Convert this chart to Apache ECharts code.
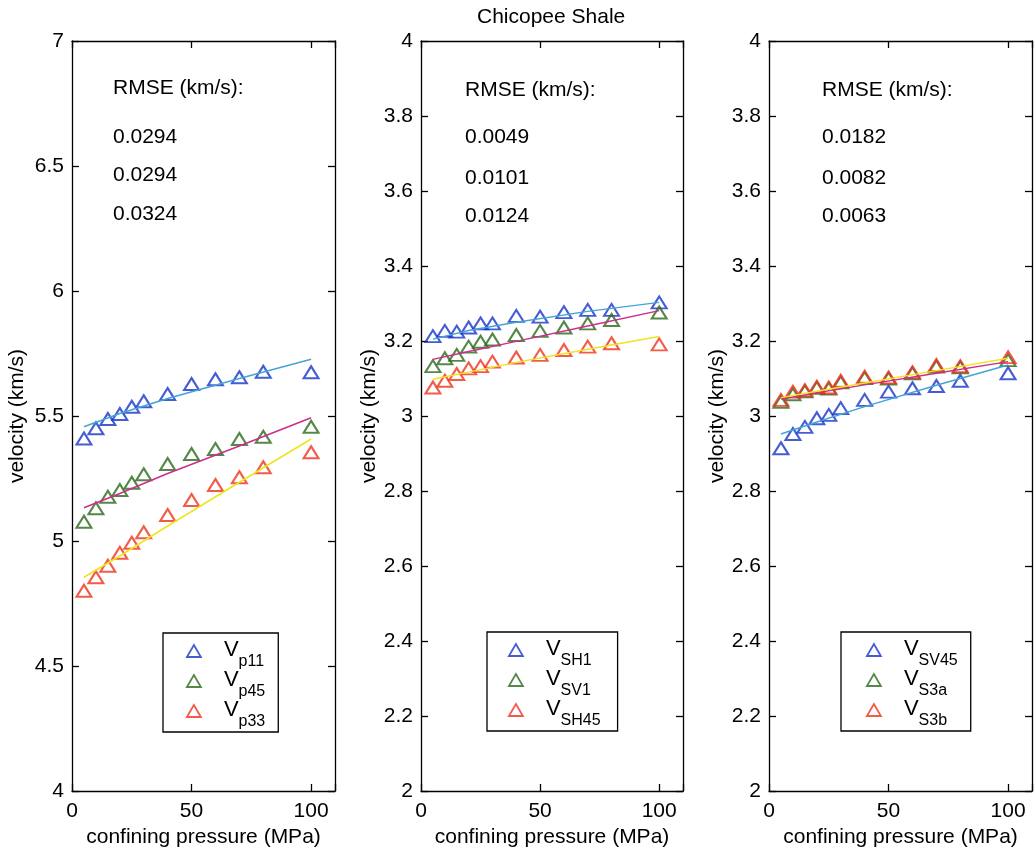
<!DOCTYPE html>
<html>
<head>
<meta charset="utf-8">
<script src="https://cdn.jsdelivr.net/npm/echarts@6/dist/echarts.min.js"></script>
<style>html,body{margin:0;padding:0;background:#fff}#c{width:1035px;height:854px}</style>
</head>
<body>
<div id="c"></div>
<script>
// ---------- data ----------
const pressure = [5, 10, 15, 20, 25, 30, 40, 50, 60, 70, 80, 100];
const fitPressure = [5, 20, 40, 70, 100];
const xTicks = [0, 50, 100];

// panel 1 (P-wave)
const vp11 = [5.41, 5.451, 5.488, 5.508, 5.537, 5.559, 5.588, 5.628, 5.647, 5.655, 5.677, 5.675];
const vp45 = [5.077, 5.131, 5.177, 5.204, 5.233, 5.267, 5.308, 5.348, 5.368, 5.408, 5.417, 5.457];
const vp33 = [4.801, 4.855, 4.901, 4.953, 4.993, 5.035, 5.104, 5.164, 5.224, 5.255, 5.295, 5.355];
const fitVp11 = [5.457, 5.51, 5.57, 5.65, 5.727];
const fitVp45 = [5.133, 5.19, 5.27, 5.38, 5.493];
const fitVp33 = [4.855, 4.94, 5.06, 5.235, 5.408];
const rmse1 = ['0.0294', '0.0294', '0.0324'];
const subs1 = ['p11', 'p45', 'p33'];

// panel 2 (S-wave)
const vsh1 = [3.213, 3.227, 3.225, 3.236, 3.247, 3.247, 3.267, 3.265, 3.277, 3.283, 3.283, 3.303];
const vsv1 = [3.133, 3.154, 3.163, 3.185, 3.198, 3.204, 3.216, 3.227, 3.236, 3.247, 3.256, 3.276];
const vsh45 = [3.076, 3.094, 3.112, 3.127, 3.133, 3.145, 3.156, 3.163, 3.176, 3.185, 3.194, 3.191];
const fitVsh1 = [3.205, 3.228, 3.25, 3.279, 3.303];
const fitVsv1 = [3.151, 3.172, 3.199, 3.24, 3.281];
const fitVsh45 = [3.098, 3.117, 3.143, 3.178, 3.212];
const rmse2 = ['0.0049', '0.0101', '0.0124'];
const subs2 = ['SH1', 'SV1', 'SH45'];

// panel 3 (S-wave)
const vsv45 = [2.914, 2.952, 2.971, 2.994, 3.003, 3.021, 3.043, 3.065, 3.074, 3.080, 3.094, 3.114];
const vs3a = [3.038, 3.058, 3.066, 3.075, 3.073, 3.09, 3.101, 3.1, 3.114, 3.132, 3.13, 3.149];
const vs3b = [3.043, 3.065, 3.069, 3.078, 3.076, 3.094, 3.105, 3.103, 3.117, 3.136, 3.133, 3.157];
const fitVsv45 = [2.952, 2.984, 3.025, 3.082, 3.136];
const fitVs3a = [3.045, 3.062, 3.083, 3.114, 3.145];
const fitVs3b = [3.049, 3.066, 3.088, 3.121, 3.154];
const rmse3 = ['0.0182', '0.0082', '0.0063'];
const subs3 = ['SV45', 'S3a', 'S3b'];

// ---------- style ----------
const FONT = '"Liberation Sans", Arial, Helvetica, sans-serif';
const MARK = ['#1733c9', '#2b6a1a', '#f0321c'];
const FIT = ['#45a4d6', '#cf2c8c', '#eee51a'];

const panels = [
  { grid: { left: 72, top: 41, width: 263, height: 750 }, yMin: 4, yMax: 7, yInt: 0.5, yNameGap: 44,
    data: [vp11, vp45, vp33], fits: [fitVp11, fitVp45, fitVp33], subs: subs1, rmse: rmse1,
    textX: 113, textY: [88, 137, 175, 214],
    legend: { left: 163, top: 633, padding: [6, 13, 2, 23] } },
  { grid: { left: 421, top: 41, width: 262, height: 750 }, yMin: 2, yMax: 4, yInt: 0.2, yNameGap: 37,
    data: [vsh1, vsv1, vsh45], fits: [fitVsh1, fitVsv1, fitVsh45], subs: subs2, rmse: rmse2,
    textX: 465, textY: [90, 137, 178, 216],
    legend: { left: 487, top: 632, padding: [6, 17, 2, 21] } },
  { grid: { left: 769, top: 41, width: 263, height: 750 }, yMin: 2, yMax: 4, yInt: 0.2, yNameGap: 37,
    data: [vsv45, vs3a, vs3b], fits: [fitVsv45, fitVs3a, fitVs3b], subs: subs3, rmse: rmse3,
    textX: 822, textY: [90, 137, 178, 216],
    legend: { left: 841, top: 632, padding: [6, 13, 2, 25] } }
];

const axisLine = { show: true, onZero: false, lineStyle: { color: '#000', width: 1.3 } };
const axisTick = { show: true, inside: true, length: 7, lineStyle: { color: '#000', width: 1.3 } };
const lblStyle = { color: '#000', fontSize: 21, fontFamily: FONT };

const grid = [], xAxis = [], yAxis = [], series = [], legend = [], graphic = [];

panels.forEach((p, i) => {
  grid.push(p.grid);
  xAxis.push({
    type: 'value', gridIndex: i, position: 'bottom', min: 0, max: 110, interval: 50,
    axisLine, axisTick, splitLine: { show: false },
    axisLabel: { ...lblStyle, margin: 10, formatter: v => xTicks.includes(v) ? String(v) : '' },
    name: 'confining pressure (MPa)', nameLocation: 'middle', nameGap: 36,
    nameTextStyle: { ...lblStyle }
  });
  xAxis.push({
    type: 'value', gridIndex: i, position: 'top', min: 0, max: 110, interval: 50,
    axisLine, axisTick, splitLine: { show: false }, axisLabel: { show: false }
  });
  yAxis.push({
    type: 'value', gridIndex: i, position: 'left', min: p.yMin, max: p.yMax, interval: p.yInt,
    axisLine, axisTick, splitLine: { show: false },
    axisLabel: { ...lblStyle, margin: 8, formatter: v => String(Math.round(v * 100) / 100) },
    name: 'velocity (km/s)', nameLocation: 'middle', nameGap: p.yNameGap,
    nameTextStyle: { ...lblStyle }
  });
  yAxis.push({
    type: 'value', gridIndex: i, position: 'right', min: p.yMin, max: p.yMax, interval: p.yInt,
    axisLine, axisTick, splitLine: { show: false }, axisLabel: { show: false }
  });

  const names = p.subs.map(s => 'V' + s);
  p.data.forEach((vals, k) => {
    series.push({
      type: 'scatter', name: names[k], xAxisIndex: 2 * i, yAxisIndex: 2 * i,
      symbol: 'triangle', symbolSize: [15, 12],
      itemStyle: { color: 'rgba(0,0,0,0)', borderColor: MARK[k], borderWidth: 2 },
      emphasis: { disabled: true }, z: 2,
      data: pressure.map((x, j) => [x, vals[j]])
    });
  });
  p.fits.forEach((vals, k) => {
    series.push({
      type: 'line', name: 'fit ' + names[k], xAxisIndex: 2 * i, yAxisIndex: 2 * i,
      showSymbol: false, symbol: 'none', smooth: false,
      lineStyle: { color: FIT[k], width: 1.5 }, emphasis: { disabled: true }, z: 3,
      data: fitPressure.map((x, j) => [x, vals[j]])
    });
  });

  legend.push({
    left: p.legend.left, top: p.legend.top, padding: p.legend.padding,
    orient: 'vertical', itemWidth: 14, itemHeight: 12, itemGap: -1,
    borderColor: '#000', borderWidth: 1.3, backgroundColor: '#fff', selectedMode: false, z: 10,
    data: names.map((n, k) => ({
      name: n, icon: 'triangle',
      itemStyle: { color: 'rgba(0,0,0,0)', borderColor: MARK[k], borderWidth: 1.8 }
    })),
    formatter: n => '{v|V}{s|' + n.slice(1) + '}',
    textStyle: {
      color: '#000', fontFamily: FONT,
      rich: {
        v: { fontSize: 22, lineHeight: 24, verticalAlign: 'top', fontFamily: FONT, color: '#000', padding: [0, 0, 0, 18] },
        s: { fontSize: 16, lineHeight: 12, verticalAlign: 'top', fontFamily: FONT, color: '#000', padding: [15, 0, 0, 0] }
      }
    }
  });

  const lines = ['RMSE (km/s):'].concat(p.rmse);
  lines.forEach((t, k) => {
    graphic.push({
      type: 'text', x: p.textX, y: p.textY[k], z: 20,
      style: { text: t, font: '21px ' + FONT, fill: '#000', verticalAlign: 'middle', align: 'left' }
    });
  });
});

const chart = echarts.init(document.getElementById('c'), null, { renderer: 'canvas' });
chart.setOption({
  animation: false,
  backgroundColor: '#fff',
  title: { text: 'Chicopee Shale', left: 477, top: 7, padding: 0,
    textStyle: { color: '#000', fontSize: 21, fontWeight: 'normal', fontFamily: FONT } },
  grid, xAxis, yAxis, series, legend, graphic
});
</script>
</body>
</html>
